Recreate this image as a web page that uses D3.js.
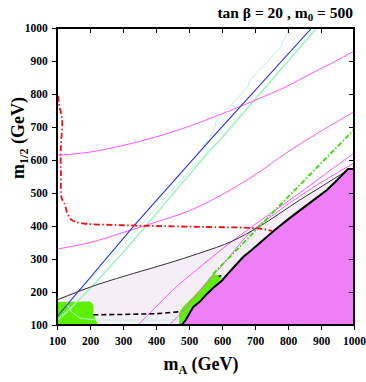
<!DOCTYPE html>
<html>
<head>
<meta charset="utf-8">
<script src="https://cdn.jsdelivr.net/npm/d3@7"></script>
<style>
  body { margin: 0; background: #fff; }
  text { font-family: "Liberation Serif", "Times New Roman", serif; font-weight: bold; }
</style>
</head>
<body>
<div id="chart"></div>
<script>
// chart values (m_A, m_1/2 in GeV)
var xTicks = [100, 200, 300, 400, 500, 600, 700, 800, 900, 1000];
var yTicks = [100, 200, 300, 400, 500, 600, 700, 800, 900, 1000];

// excluded (stau LSP) region boundary
var stauEdge = [[478,100],[490,115],[513,155],[533,171],[555,195],[573,212],[600,235],[614,251],[633,272],
  [664,306],[690,327],[724,357],[760,388],[800,420],[850,458],[918,509],[950,540],[982,573],[1000,573]];
// thin black curve (top of the pale region)
var paleTop = [[100,176],[230,225],[331,256],[433,286],[533,318],[633,355],[709,396],[836,479],[958,555],[985,573]];
// bright green patches
var greenA = [[100,100],[100,170],[200,171],[207,166],[210,158],[210,136],[216,118],[225,100]];
var greenB = [[470,100],[470,136],[482,155],[533,206],[560,240],[573,255],[590,250],[600,243],[573,212],[555,195],[533,171],[513,155],[490,115],[478,100]];
// dashed black line
var dashLine = [[210,131],[300,132],[400,134],[470,140]];
var dashBit = [[590,247],[598,250]];
// red dash-dot curve
var redLine = [[103,795],[106,772],[110,752],[114,731],[116,712],[113,660],[111,621],[112,560],[114,485],[122,470],
  [131,440],[142,420],[170,409],[281,403],[400,400],[550,397],[694,394],[730,390],[752,385]];
// blue line
var blueLine = [[100,125],[331,398],[569,666],[872,1000]];
// pale green lines
var mintA = [[887,1000],[594,661],[560,625],[311,332],[200,210],[130,140],[100,115]];
var mintB = [[796,1000],[800,989],[781,953],[781,945],[685,842],[679,822],[584,721],[579,701],[565,670],[545,648],[556,628],[291,332],[129,166],[144,140],[170,121],[220,115],[440,115],[470,118]];
// magenta contour lines
var mag1 = [[100,614],[200,624],[300,644],[400,670],[500,702],[600,740],[700,781],[800,825],[870,862],[930,892],[1000,930]];
var mag2 = [[100,330],[200,350],[300,380],[400,412],[500,446],[600,495],[700,555],[800,625],[906,691],[1000,746]];
var mag3 = [[345,100],[400,155],[450,205],[523,267],[600,330],[700,405],[800,475],[900,548],[1000,621]];
var mag4 = [[440,100],[480,140],[520,190],[600,280],[685,380],[750,430],[850,500],[1000,591]];
// green dash-dot line
var greenLine = [[573,255],[644,327],[800,488],[1000,692]];

var svgWidth = 366, svgHeight = 382;
var margin = {top: 28, left: 57};
var width = 354 - margin.left;
var height = 325 - margin.top;

var svg = d3.select("#chart").append("svg")
  .attr("width", svgWidth)
  .attr("height", svgHeight);

var g = svg.append("g")
  .attr("transform", `translate(${margin.left}, ${margin.top})`);

var x = d3.scaleLinear().domain([100, 1000]).range([0, width]);
var y = d3.scaleLinear().domain([100, 1000]).range([height, 0]);

g.append("clipPath").attr("id", "clip")
  .append("rect").attr("width", width).attr("height", height);

var plot = g.append("g").attr("clip-path", "url(#clip)");

var line = d3.line().x(d => x(d[0])).y(d => y(d[1]));
var smooth = d3.line().x(d => x(d[0])).y(d => y(d[1])).curve(d3.curveMonotoneX);
var curve = d3.line().x(d => x(d[0])).y(d => y(d[1])).curve(d3.curveCatmullRom);

// pale region under the thin black curve
var pale = [[100,100]].concat(paleTop, [[1000,573],[1000,100]]);
plot.append("path").attr("d", smooth(pale)).attr("fill", "#f6eef6");

plot.append("path").attr("d", line(greenA)).attr("fill", "#5cf000");
plot.append("path").attr("d", line(greenB)).attr("fill", "#5cf000");

// stau region
var stau = stauEdge.concat([[1000,100]]);
plot.append("path").attr("d", line(stau)).attr("fill", "#ee7ff6");

function drawLine(data, color, w, dash, gen) {
  plot.append("path")
    .attr("d", (gen || smooth)(data))
    .attr("fill", "none")
    .attr("stroke", color)
    .attr("stroke-width", w)
    .attr("stroke-dasharray", dash || null);
}

drawLine(mintA, "#a4f2c2", 1.6, null, line);
drawLine(mintB, "#b6f5d2", 1, null, line);
drawLine(mag1, "#ff55ff", 1);
drawLine(mag2, "#ff55ff", 1);
drawLine(mag3, "#ff55ff", 1);
drawLine(mag4, "#ff55ff", 1);
drawLine(blueLine, "#2233ee", 1.1, null, line);
drawLine(paleTop, "#333", 1);
drawLine(stauEdge, "#000", 2, null, line);
drawLine(dashLine, "#000", 1.6, "5,3", line);
drawLine(dashBit, "#000", 1.6, null, line);
drawLine(greenLine, "#33dd00", 1.8, "5,2,1.5,2", line);
drawLine(redLine, "#ee1111", 1.8, "6,2.5,1.5,2.5", curve);

// axes with minor ticks
var minor = d3.range(100, 1001, 10);
function axisSet(axisFn, scale, tr, inner, ticks, labels) {
  var a = g.append("g").attr("transform", tr);
  a.call(axisFn(scale).tickValues(minor).tickSize(inner ? -2.5 : 2.5).tickFormat(""));
  a.call(axisFn(scale).tickValues(ticks).tickSize(inner ? -5 : 5)
    .tickFormat(labels ? d3.format("d") : ""));
  a.selectAll(".domain").remove();
  a.selectAll("line").attr("stroke", "#000").attr("stroke-width", 1);
  a.selectAll("text").attr("font-size", "11.5px").attr("fill", "#000");
  return a;
}
var bx = axisSet(d3.axisBottom, x, `translate(0,${height})`, false, xTicks, true);
bx.selectAll("text").attr("dy", "1.05em");
axisSet(d3.axisTop, x, "translate(0,0)", true, xTicks, false);
var ly = axisSet(d3.axisLeft, y, "translate(0,0)", false, yTicks, true);
ly.selectAll("text").attr("dx", "-0.1em");
axisSet(d3.axisRight, y, `translate(${width},0)`, true, yTicks, false);

g.append("rect").attr("width", width).attr("height", height)
  .attr("fill", "none").attr("stroke", "#000").attr("stroke-width", 2);

// titles
var t = svg.append("text").attr("x", 353).attr("y", 18).attr("text-anchor", "end").attr("font-size", "15.5px");
t.append("tspan").text("tan \u03b2 = 20 , m");
t.append("tspan").attr("font-size", "11px").attr("dy", 3).text("0");
t.append("tspan").attr("dy", -3).text(" = 500");

var xl = svg.append("text").attr("x", 201).attr("y", 370).attr("text-anchor", "middle").attr("font-size", "18px");
xl.append("tspan").text("m");
xl.append("tspan").attr("font-size", "12px").attr("dy", 4).text("A");
xl.append("tspan").attr("dy", -4).text(" (GeV)");

var yl = svg.append("text").attr("transform", "translate(24,138) rotate(-90)")
  .attr("text-anchor", "middle").attr("font-size", "18px");
yl.append("tspan").text("m");
yl.append("tspan").attr("font-size", "12px").attr("dy", 4).text("1/2");
yl.append("tspan").attr("dy", -4).text(" (GeV)");
</script>
</body>
</html>
